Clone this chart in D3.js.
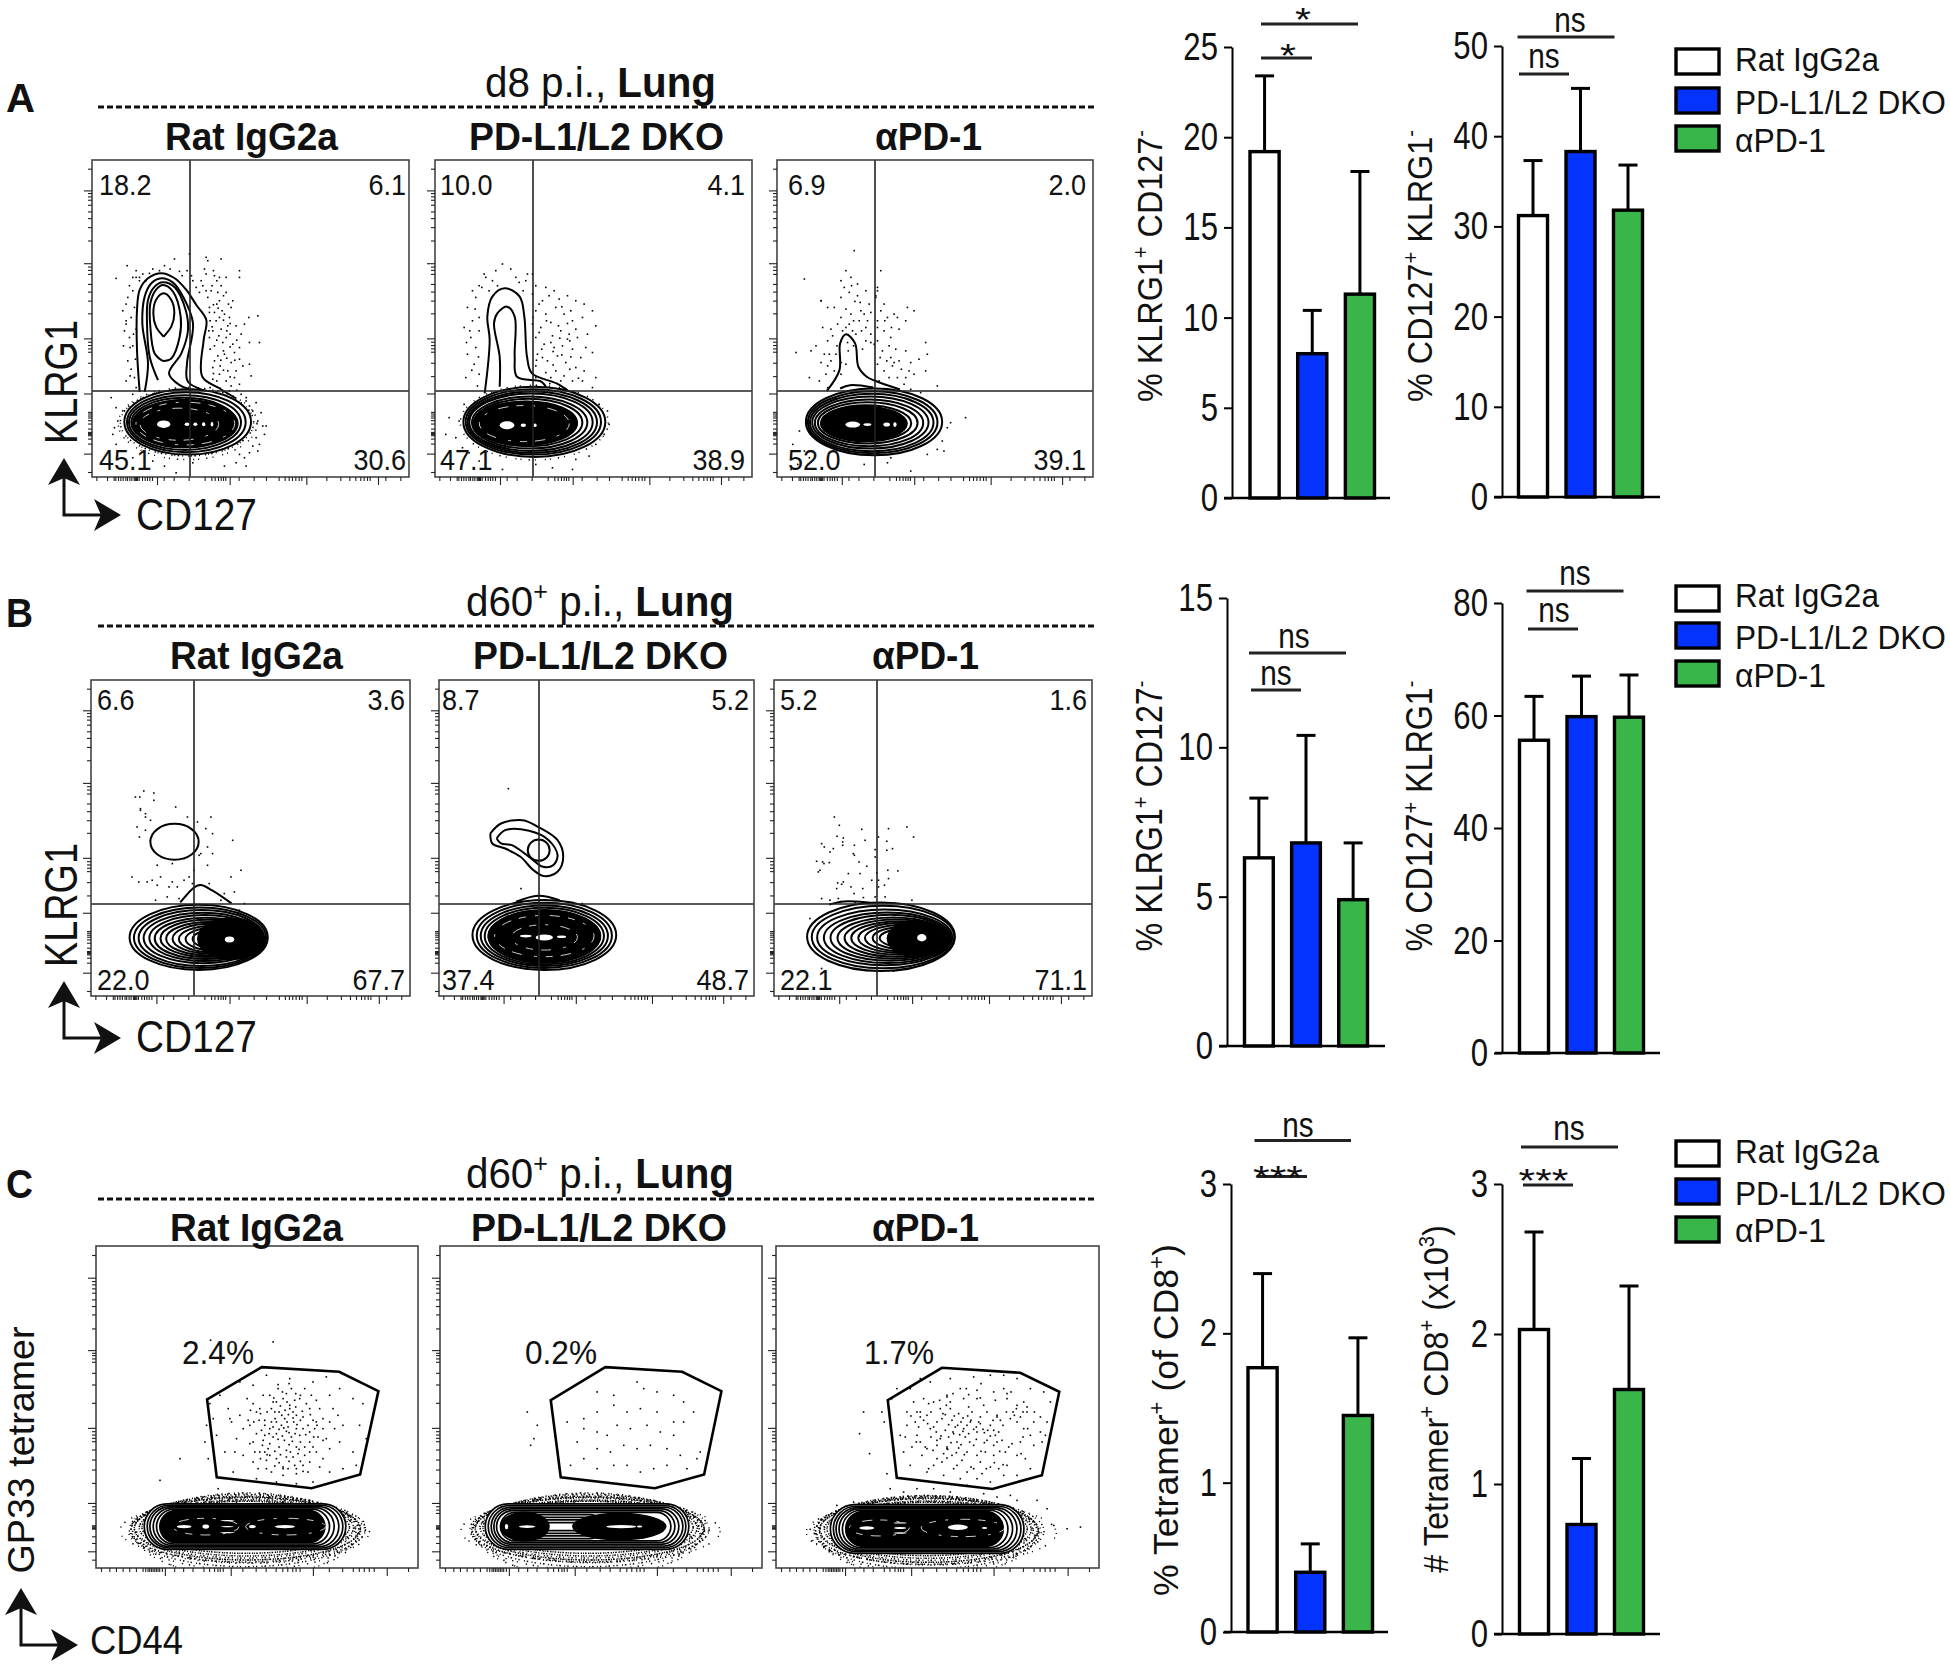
<!DOCTYPE html>
<html><head><meta charset="utf-8"><style>html,body{margin:0;background:#fff}svg{display:block}</style>
<script src="https://cdn.jsdelivr.net/npm/d3@7"></script></head><body><svg id="c" width="1950" height="1666"></svg>
<script>
// ---------- DATA ----------
const categories=["Rat IgG2a","PD-L1/L2 DKO","αPD-1"];
const meanA1=[19.2,8.0,11.3], topA1=[23.4,10.4,18.1];
const meanA2=[31.2,38.3,31.8], topA2=[37.3,45.3,36.8];
const meanB1=[6.3,6.8,4.9], topB1=[8.3,10.4,6.8];
const meanB2=[55.6,59.8,59.7], topB2=[63.4,67,67.2];
const meanC1=[1.77,0.4,1.45], topC1=[2.4,0.59,1.97];
const meanC2=[2.03,0.73,1.63], topC2=[2.68,1.17,2.32];
const quadA=[["18.2","6.1","45.1","30.6"],["10.0","4.1","47.1","38.9"],["6.9","2.0","52.0","39.1"]];
const quadB=[["6.6","3.6","22.0","67.7"],["8.7","5.2","37.4","48.7"],["5.2","1.6","22.1","71.1"]];
const gatePct=["2.4%","0.2%","1.7%"];
// axis ticks of the flow plots, in channel units
const tickXMajor=[195,413,643,858], tickXMinor=[13,45,65,70,78,85,92,100,105,112,118,125,128,130,132,135,140,150,158,165,172,180,215,245,290,338,358,368,378,386,393,400,440,485,522,560,578,590,600,610,620,628,703,745,772,790,805,815,825,833,880,925];
const tickYMajor=[858,640,415,250,70], tickYMinor=[923,850,840,830,815,795,775,748,708,630,620,608,578,555,528,490,405,395,385,375,342,302,195,190,184,178,170,160,145,135,132,130,128,125,115,100,15];
const tickCXMajor=[207,405,652,874], tickCXMinor=[15,40,60,80,100,120,140,148,155,160,165,170,175,180,185,190,198,235,262,290,323,340,355,365,372,381,440,480,510,540,560,575,590,600,612,700,740,772,790,805,820,835,938];
const tickCYMajor=[870,653,420,195,50], tickCYMinor=[938,860,850,838,825,805,785,760,718,645,638,628,618,585,550,495,410,400,390,380,355,325,295,255,185,175,165,128,125,122,120,118,95,75,25];
// density contours: rings as [centre x, centre y, radius x, radius y]
const ringsA1=[[287,165,190,98],[283,164,178,90],[279,163,168,82],[275,163,157,74],[271,163,146,66],[267,162,134,58],[263,161,122,50],[259,160,110,44],[255,160,98,38],[251,159,86,32],[247,159,74,26],[241,158,58,20],[233,158,42,16],[225,158,28,13]];
const ringsA2=[[298,165,213,105],[295,165,203,98],[292,164,194,92],[288,164,185,86],[284,163,173,78],[280,163,162,71],[276,162,150,64],[272,162,138,57],[268,161,125,50],[264,160,113,44],[260,160,100,38],[255,159,87,32],[250,158,74,27],[240,157,58,22],[230,156,42,17]];
const ringsA3=[[292,165,205,100],[288,164,195,93],[285,163,186,86],[281,163,175,78],[277,162,163,70],[273,162,150,62],[268,161,136,54],[264,160,123,47],[260,160,110,41],[256,159,96,35],[250,158,82,29],[243,157,66,23],[235,157,50,17]];
const ringsB1=[[321,176,206,98],[325,175,197,91],[329,174,187,84],[333,174,176,76],[338,174,164,69],[342,173,152,62],[347,173,140,56],[352,172,128,50],[358,172,115,45],[364,171,102,40],[370,171,88,35],[377,171,74,30],[385,171,60,25],[392,171,44,20],[400,170,28,14],[249,463,72,54]];
const ringsB2=[[318,183,217,105],[318,182,204,98],[318,181,192,91],[318,180,180,85],[318,179,168,79],[318,178,156,72],[318,178,144,65],[318,177,132,58],[318,176,120,52],[318,176,108,46],[318,176,95,40],[318,176,82,33],[318,176,68,26],[318,176,54,20],[318,176,40,14],[301,438,33,32]];
const ringsB3=[[320,178,221,103],[326,177,213,94],[331,176,202,84],[339,175,190,76],[347,175,178,69],[356,174,166,62],[365,174,154,56],[373,174,142,50],[382,174,130,45],[390,174,118,40],[400,174,105,35],[408,174,92,30],[418,174,78,25],[428,174,62,20],[436,174,40,14]];
const ringsC1=[[448,124,303,68],[448,124,294,64],[446,124,284,60],[444,124,272,56],[442,124,260,52],[440,124,248,48],[438,124,234,44],[436,124,220,40],[434,124,204,36],[432,124,188,32]];
const ringsC2=[[442,124,306,68],[442,124,297,63],[442,124,288,58],[440,124,278,53],[438,124,268,48],[438,124,256,43],[367,124,120,36],[367,124,110,28],[367,124,100,20],[367,124,90,12]];
const ringsC3=[[453,117,290,73],[453,117,281,68],[451,117,271,64],[449,117,260,60],[447,117,248,56],[445,117,236,52],[443,117,222,48],[441,117,208,44]];
// solid cores: [cx,cy,rx,ry, kind]: 0 black, 1 white, 2 broken white line, 3 black stadium
const coresA1=[[280,160,160,74,0],[280,160,148,64,2],[262,158,118,48,2],[215,158,20,11,1],[285,158,7,5,1],[310,158,6,5,1],[335,158,5,6,1],[360,158,4,7,1]];
const coresA2=[[270,160,158,68,0],[268,160,135,54,2],[216,155,22,12,1],[265,155,8,5,1],[300,155,5,5,1]];
const coresA3=[[262,160,132,54,0],[228,157,22,9,1],[272,157,12,4,1],[330,157,10,6,1],[355,157,5,7,1]];
const coresB1=[[418,172,102,64,0],[413,170,14,9,1]];
const coresB2=[[318,180,172,80,0],[318,180,150,62,2],[318,176,100,38,2],[318,176,26,9,1],[262,180,18,4,1],[370,178,14,4,1]];
const coresB3=[[425,172,88,56,0],[442,175,14,11,1]];
const coresC1=[[440,124,248,48,3],[330,124,100,25,2],[570,124,120,25,2],[265,124,22,5,1],[330,124,10,6,1],[568,124,30,5,1],[470,124,10,5,1],[395,142,22,2,1],[395,124,20,2,1],[395,106,22,2,1]];
const coresC2=[[255,124,75,45,0],[539,124,142,42,0],[262,124,25,4,1],[545,124,45,5,1],[600,124,8,3,1],[200,124,5,8,1],[365,124,25,2,1]];
const coresC3=[[445,117,236,52,3],[310,120,90,24,2],[560,120,125,26,2],[272,120,22,5,1],[545,122,30,8,1],[372,135,20,2,1],[372,120,18,3,1],[372,105,20,2,1],[625,120,8,3,1]];
// open or closed contour lines as [x,y] channel points
const linesA1=[[[143,255],[135,380],[135,500],[143,560],[168,595],[208,610],[248,595],[283,560],[313,515],[343,470],[335,410],[331,300],[383,265],[433,235]],[[158,255],[168,340],[151,460],[158,540],[178,580],[208,595],[243,582],[273,540],[303,460],[285,340],[288,285],[363,250]],[[198,290],[173,360],[165,460],[168,530],[188,570],[213,583],[248,568],[281,500],[288,440],[268,370],[231,310],[263,275],[323,255]],[[213,347],[188,370],[175,450],[175,520],[193,562],[213,575],[243,555],[266,480],[263,420],[238,355],[213,347]],[[215,420],[192,450],[184,490],[192,530],[215,550],[238,530],[247,490],[238,450],[215,420]]];
const linesA2=[[[149,250],[164,410],[157,480],[172,540],[209,565],[254,540],[268,480],[276,360],[291,310],[365,280],[410,250]],[[194,270],[194,360],[177,460],[187,490],[216,510],[239,480],[239,360],[246,300],[320,285],[335,265]]];
const linesA3=[[[150,258],[188,320],[190,400],[208,427],[235,400],[245,330],[270,300],[295,288],[370,262]],[[190,265],[220,275],[290,268]]];
const linesB1=[[[266,281],[310,328],[327,333],[360,318],[419,278]]];
const linesB2=[[[155,488],[187,518],[253,528],[299,508],[358,468],[375,418],[358,373],[318,360],[285,378],[246,418],[200,443],[161,458],[155,488]],[[174,473],[200,498],[272,496],[331,468],[358,423],[345,393],[314,388],[272,418],[220,453],[187,458],[174,473]],[[233,283],[299,301],[364,288]]];
const linesB3=[[[165,275],[210,284],[300,280],[380,275]]];
// tetramer gates
const gateC1=[[498,602],[731,588],[849,530],[794,280],[648,239],[363,272],[334,505]];
const gateC2=[[497,602],[728,588],[846,530],[794,280],[646,239],[363,272],[333,503]];
const gateC3=[[497,600],[732,585],[849,528],[797,278],[649,237],[362,270],[335,503]];
// speckle bands of dense events: [cx,cy,rx,ry,density 0 high .. 2 low]
const speckC1=[[450,122,312,78,0],[452,120,322,84,0],[448,120,332,90,1],[455,118,340,94,0],[445,116,345,98,1],[458,116,352,100,1],[450,112,345,108,1],[450,108,340,114,2],[460,110,362,96,2],[440,112,368,88,2],[452,100,330,125,2],[452,95,300,130,2]];
const speckC2=[[445,122,316,78,0],[447,120,326,84,0],[443,120,336,90,1],[450,118,344,94,0],[440,116,350,98,1],[453,116,356,100,1],[445,112,350,108,1],[445,108,345,114,2],[470,110,372,92,2],[435,112,372,88,2],[447,100,335,125,2],[447,95,305,130,2]];
const speckC3=[[453,117,300,80,0],[455,115,310,86,0],[451,115,320,92,1],[458,113,328,96,0],[448,111,334,100,1],[461,111,342,102,1],[453,107,335,110,1],[453,103,330,114,2],[470,105,370,94,2],[443,107,352,90,2],[455,95,320,120,2],[455,90,290,125,2]];
const speckA1=[[287,160,208,108,2],[285,163,200,100,1]];
const speckA2=[[298,163,222,112,2]];
// individual events
const dotsA1=[70,597,103,635,130,620,180,625,215,635,245,655,283,620,290,670,340,610,340,660,345,650,365,605,380,600,385,655,440,600,440,620,385,575,400,600,330,575,355,560,375,555,345,540,400,555,420,530,415,510,380,530,350,510,365,495,395,490,370,470,410,480,430,455,455,460,468,480,495,485,385,445,360,440,400,420,420,400,440,390,445,430,390,405,365,395,350,420,375,365,395,370,415,345,430,320,440,355,470,405,500,405,450,335,470,340,475,305,360,330,380,310,360,295,400,290,415,275,390,255,440,280,445,250,460,230,490,225,120,560,105,540,90,500,115,480,95,440,110,420,120,395,105,350,115,325,125,300,130,270,120,250,100,290,120,600,150,610,160,590,140,590,200,620,260,618,300,590,310,570,320,555,335,625,372,520,388,500,405,455,352,470,378,425,392,380,412,430,425,375,365,350,382,335,405,320,372,290,352,270,425,300,100,460,125,510,112,390,100,520,130,445,55,240,70,210,75,170,60,130,95,80,120,60,180,50,215,35,250,15,300,45,395,35,430,45,455,60,470,75,495,80,490,120,510,155,520,155,495,170,505,195,480,200,460,240,500,100,460,35,70,100,65,150,410,260,470,215,430,225,515,130,480,95,440,70,358,575,372,590,392,545,407,520,362,518,376,508,392,472,358,452,402,440,372,412,412,392,352,385,384,352,402,358,362,312,392,322,412,302,382,268,402,240,432,262,110,575,130,600,100,470,122,430,92,395,128,355,112,305,140,600,170,612,232,625,268,605,296,605,325,590,362,620,350,495,412,462,432,412,380,480,348,440,340,560,426,352];
const dotsA2=[170,590,200,640,225,625,240,600,160,560,145,610,130,575,250,585,275,610,300,575,330,570,290,550,320,530,355,560,370,535,395,545,420,530,445,520,470,500,480,455,300,500,330,490,360,510,385,490,410,470,440,480,455,430,290,460,315,450,345,465,375,440,400,430,425,420,450,390,470,375,300,420,325,400,350,425,380,395,410,385,435,360,305,370,335,350,365,365,390,345,420,330,445,320,300,335,330,315,360,320,385,305,410,290,440,290,470,270,120,540,95,510,85,450,110,470,130,480,105,420,120,390,95,370,115,340,130,310,90,300,125,275,150,600,185,575,130,440,110,560,355,390,395,415,320,360,345,300,375,290,300,300,270,590,480,300,70,170,60,120,85,220,100,75,130,50,80,90,420,55,460,65,480,100,505,130,520,160,515,200,490,220,40,180,30,130,300,40,350,30,410,25,200,25,310,520,340,545,378,512,405,500,292,480,332,470,368,455,395,462,420,445,310,435,345,405,372,418,402,410,318,385,352,378,378,368,405,362,302,352,352,338,402,325,428,298,312,290,342,282,370,262,118,505,102,440,92,405,128,362,108,322,138,570,180,620,262,560,290,610];
const dotsA3=[230,680,310,620,300,570,80,595,130,530,150,510,190,590,205,620,220,600,240,580,130,530,170,510,190,540,215,555,240,545,265,560,275,520,295,540,310,500,190,480,220,490,250,500,280,495,300,470,215,460,245,470,265,450,280,430,195,440,135,450,150,410,165,425,190,410,210,405,235,430,265,410,290,400,300,450,320,440,340,420,350,490,390,510,410,500,385,470,360,480,330,480,295,545,300,560,320,520,335,395,355,385,340,360,315,380,300,340,320,320,345,335,365,350,385,380,400,345,425,355,445,405,450,370,445,320,410,310,385,300,360,300,335,300,305,290,100,380,130,345,145,310,155,370,170,320,175,370,190,345,55,375,95,300,125,290,150,270,380,280,400,265,430,255,480,275,483,180,520,165,565,180,45,100,65,140,60,40,40,25,80,80,95,60,260,40,330,45,400,20,450,70,480,85,500,80,510,150,495,110,340,60,200,570,222,575,232,528,205,505,248,525,260,490,228,470,205,450,270,470,180,460,160,445,225,440,252,440,280,405,300,410,322,470,342,450,365,445,308,360,328,350,350,345,372,325,395,320,160,350,150,335,178,395,212,380,228,395,255,385,190,310,205,340,115,395,140,370];
const dotsB1=[143,600,155,618,185,612,185,590,145,560,250,570,175,530,160,500,130,600,145,565,160,550,240,400,160,540,205,500,135,510,142,480,175,470,240,495,260,470,275,480,290,500,315,525,340,505,345,450,360,490,285,540,305,470,355,540,325,430,360,430,275,415,320,425,345,395,290,360,305,380,275,350,240,345,195,395,180,350,205,360,230,330,120,360,140,345,165,345,195,335,255,330,260,295,225,300,190,290,300,340,350,340,415,360,445,380,420,470,425,315,395,310,385,290,455,280,440,260];
const dotsB2=[207,625,430,280,245,325,340,295];
const dotsB3=[178,540,193,515,186,482,203,465,205,477,235,430,203,455,140,460,148,450,175,445,165,435,143,405,125,407,130,375,147,400,135,380,163,403,238,455,260,503,238,425,252,405,300,442,270,470,300,420,305,372,275,392,255,370,290,350,310,330,220,370,188,342,205,345,185,325,200,338,228,330,263,325,237,310,265,298,240,285,300,300,310,350,310,480,335,440,335,467,340,505,395,510,415,480,352,445,338,380,340,355,328,335,368,378,330,300,410,290,165,290,190,295,140,295,240,285,105,235,355,77,140,85];
const dotsC1=[342,685,530,680,400,450,340,495,330,430,325,380,335,330,250,330,190,265,365,240,330,205,350,170,400,210,420,200,450,195,480,180,520,215,560,200,590,210,610,180,640,205,370,520,395,480,430,560,470,550,510,580,580,570,650,560,690,575,730,540,770,510,800,495,790,430,810,390,770,350,780,310,740,300,700,290,650,260,600,255,540,260,480,270,410,290,385,350,360,400,350,450,420,390,440,340,470,320,510,300,430,460,460,430,490,480,500,520,530,500,610,510,640,480,660,440,680,420,710,480,740,430,700,360,680,330,640,320,600,300,560,300,470,380,490,350,520,340,640,380,620,420,600,460,580,480,660,350,730,380,700,520,
 570,412,555,430,585,395,540,405,600,420,565,450,578,372,548,365,612,380,525,440,620,455,590,470,552,488,530,395,515,360,640,410,605,345,570,335,540,330,595,310,625,340,560,510,595,505,630,495,525,480,505,445,495,415,650,445,510,325,480,405,460,375,455,445,665,395,585,540,545,540,520,520,645,520,670,480,600,285,560,280,525,290,505,350,485,300,635,290,670,305,690,390,715,420,725,460,452,510,440,420,415,350,405,440,470,495,575,425,558,398,592,440,536,450,610,400,548,470,580,490,520,420,635,430,570,355,600,365,535,352,625,365,512,470,488,445,655,420,560,305,590,335,620,310,650,365,500,385,475,350,680,450,
 562,422,578,408,548,418,590,452,572,440,556,460,602,432,545,388,588,382,564,385,530,425,612,445,576,462,540,440,518,405,628,402,596,405,552,342,582,350,608,358,520,375,566,475,598,485,535,470,618,472,642,462,505,430,492,465,505,400,652,395,540,500,572,500,612,520,570,525,532,512,558,530,598,525,548,318,578,322,612,322,535,308,498,370,472,440,462,475,480,470,640,350,662,430,680,385,700,440,512,342,492,330,575,300,620,292,545,552,578,555,625,540,660,505];
const dotsC2=[470,530,520,520,590,560,610,540,650,530,700,520,730,500,760,470,430,450,470,470,520,490,560,470,600,480,650,470,700,440,730,440,430,420,470,410,500,400,530,430,570,420,620,430,660,410,700,400,380,440,410,380,470,360,510,350,550,370,590,360,630,370,680,360,720,340,770,330,390,310,430,330,470,300,520,310,560,310,600,290,640,300,680,310,740,300,780,350,260,470,290,430,280,390,270,370,220,190,245,190,300,210,340,190,400,200,450,190,500,190,540,180,600,185,640,205,680,190];
const dotsC3=[260,470,248,405,278,345,330,285,315,470,322,440,345,510,360,540,400,540,430,570,460,560,520,570,590,575,640,580,680,580,720,570,760,540,800,530,820,500,810,440,790,410,805,400,770,370,740,420,720,340,760,300,720,280,680,280,640,260,600,270,550,270,500,280,450,290,400,310,380,350,370,400,390,430,430,470,470,500,510,520,550,540,600,510,650,530,690,510,720,490,750,470,770,440,450,360,480,330,510,360,540,310,570,350,610,320,650,340,690,310,420,400,460,420,490,390,340,240,380,230,420,240,470,240,520,230,570,250,620,225,660,215,700,220,130,120,830,130,870,120,910,125,180,190,230,200,720,205,780,205,810,180,
 542,430,525,445,560,420,505,415,580,440,545,465,530,405,565,395,495,450,600,410,610,455,470,425,640,430,520,480,575,485,490,480,620,490,540,380,590,370,510,365,450,460,660,460,700,450,665,410,480,385,630,385,420,470,440,510,720,440,560,510,510,515,600,535,680,540,740,500,405,365,435,340,525,340,555,325,600,340,650,370,685,350,730,380,760,400,455,300,495,320,640,305,570,290,615,285,665,300,745,330,390,470,415,440,440,445,462,395,515,395,548,402,572,458,598,425,622,408,648,445,678,430,708,470,738,470,468,355,500,345,530,300,590,300,625,350,675,385,705,375,430,380,488,505,528,525,568,540,612,555,655,505,702,530,772,470,790,455,795,380,410,500,385,395,
 552,440,535,425,570,430,515,432,590,418,558,452,532,458,575,405,505,462,610,435,618,418,480,440,650,415,508,490,585,470,498,465,630,470,552,372,578,380,522,378,462,470,670,445,712,460,655,400,492,398,622,378,430,455,455,495,730,455,575,522,520,500,610,512,690,525,750,485,418,380,445,365,538,348,562,342,612,352,660,380,695,365,738,395,752,420,470,310,510,332,652,318,582,305,628,300,678,312,732,345,402,458,425,425,452,435,478,410,528,410,558,412,582,445,605,440,632,415,660,455,688,470,718,480,480,370,512,358,545,362,598,388,640,398,668,352];
// ---------- LAYOUT ----------
const svg=d3.select('#c');
const FONT='Liberation Sans, Arial, sans-serif', INK='#111';
function T(g,x,y,segs,o={}){
  const t=g.append('text').attr('font-family',FONT).attr('font-size',o.size||30).attr('text-anchor',o.anchor||'start').attr('fill',INK).attr('xml:space','preserve');
  if(typeof segs==='string')segs=[[segs]];
  const size=o.size||30; let shift=0;
  segs.forEach(([s,k])=>{
    const sup=k==='sup', tgt=sup?-size*.38:0;
    t.append('tspan').attr('dy',tgt-shift).attr('font-size',sup?size*.62:size).attr('font-weight',k==='b'||o.bold?'bold':'normal').text(s);
    shift=tgt;
  });
  const n=t.node().getComputedTextLength();
  const k=o.len?o.len/n:(o.k||1);
  t.attr('transform',`translate(${x},${y}) rotate(${o.rot||0}) scale(${k},1)`);
  return t;
}
const plotLine=d3.line().curve(d3.curveCatmullRom.alpha(.5));
const speckDash=[['1.6 1.1 1 .9 1.4 1.6','1.1 1.4 1.6 .8 1 2','1.4 .9 1 1.7 1.2 1.2'],['1.3 2.1 1 3.3 1.6 1.9 1 4.2','1 3.1 1.5 2.3 1 1.7 1.3 5','1.5 1.8 1 4.4 1 2.6'],['1 5 1.4 7 1 4 1 9','1.2 8 1 3.5 1.3 6','1 4 1 11 1.4 5 1 7']];
let clipN=0;
const pairs=f=>d3.range(0,f.length,2).map(i=>[f[i],f[i+1]]);
function flowPanel(p){
  const D=p.big?[968,965]:[951,949];
  const x=d3.scaleLinear().domain([0,D[0]]).range([p.l,p.r]);
  const y=d3.scaleLinear().domain([0,D[1]]).range([p.b,p.t]);
  const rw=d=>x(d)-x(0), rh=d=>y(0)-y(d);
  const g=svg.append('g'), id='cl'+(clipN++);
  g.append('clipPath').attr('id',id).append('rect').attr('x',p.l).attr('y',p.t).attr('width',p.r-p.l).attr('height',p.b-p.t);
  const inner=g.append('g').attr('clip-path',`url(#${id})`);
  inner.selectAll('.sp').data(p.speck||[]).join('ellipse').attr('cx',d=>x(d[0])).attr('cy',d=>y(d[1])).attr('rx',d=>rw(d[2])).attr('ry',d=>rh(d[3]))
    .attr('fill','none').attr('stroke','#000').attr('stroke-width',1.5).attr('stroke-dasharray',(d,i)=>speckDash[d[4]][i%3]);
  inner.selectAll('.dot').data(pairs(p.dots)).join('rect').attr('x',d=>x(d[0])).attr('y',d=>y(d[1])).attr('width',1.6).attr('height',1.6).attr('fill','#000');
  if(p.big){
    inner.selectAll('.ringBg').data(p.rings.slice(0,1)).join('rect').attr('x',d=>x(d[0]-d[2])).attr('y',d=>y(d[1]+d[3])).attr('width',d=>rw(2*d[2])).attr('height',d=>rh(2*d[3])).attr('rx',d=>rh(d[3])).attr('fill','#fff');
    inner.selectAll('.ring').data(p.rings).join('rect').attr('x',d=>x(d[0]-d[2])).attr('y',d=>y(d[1]+d[3])).attr('width',d=>rw(2*d[2])).attr('height',d=>rh(2*d[3])).attr('rx',d=>rh(d[3]))
      .attr('fill','none').attr('stroke','#000').attr('stroke-width',1.7);
  } else {
    inner.selectAll('.ln').data(p.lines).join('path').attr('d',d=>plotLine(d.map(q=>[x(q[0]),y(q[1])]))).attr('fill','none').attr('stroke','#000').attr('stroke-width',2);
    inner.selectAll('.ring').data(p.rings).join('ellipse').attr('cx',d=>x(d[0])).attr('cy',d=>y(d[1])).attr('rx',d=>rw(d[2])).attr('ry',d=>rh(d[3]))
      .attr('fill','#fff').attr('stroke','#000').attr('stroke-width',2);
  }
  p.cores.forEach(d=>{
    if(d[4]===3){inner.append('rect').attr('x',x(d[0]-d[2])).attr('y',y(d[1]+d[3])).attr('width',rw(2*d[2])).attr('height',rh(2*d[3])).attr('rx',rh(d[3])).attr('fill','#000');return;}
    const e=inner.append('ellipse').attr('cx',x(d[0])).attr('cy',y(d[1])).attr('rx',rw(d[2])).attr('ry',rh(d[3]));
    if(d[4]===2) e.attr('fill','none').attr('stroke','#fff').attr('stroke-width',.8).attr('stroke-dasharray','7 9 3 12 10 8');
    else e.attr('fill',d[4]?'#fff':'#000');
  });
  if(p.gate) inner.append('polygon').attr('points',p.gate.map(q=>[x(q[0]),y(q[1])].join(',')).join(' ')).attr('fill','none').attr('stroke','#000').attr('stroke-width',2.6);
  if(p.vx){
    g.append('line').attr('x1',p.vx).attr('x2',p.vx).attr('y1',p.t).attr('y2',p.b).attr('stroke','#222').attr('stroke-width',1.6);
    g.append('line').attr('x1',p.l).attr('x2',p.r).attr('y1',p.hy).attr('y2',p.hy).attr('stroke','#222').attr('stroke-width',1.6);
  }
  g.append('rect').attr('x',p.l).attr('y',p.t).attr('width',p.r-p.l).attr('height',p.b-p.t).attr('fill','none').attr('stroke','#444').attr('stroke-width',1.6);
  const txM=p.big?tickCXMajor:tickXMajor, txm=p.big?tickCXMinor:tickXMinor, tyM=p.big?tickCYMajor:tickYMajor, tym=p.big?tickCYMinor:tickYMinor;
  const ax=(gen,tr)=>{const a=g.append('g').attr('transform',tr).call(gen);a.select('.domain').remove();a.selectAll('line').attr('stroke','#222').attr('stroke-width',1.1);};
  ax(d3.axisBottom(x).tickValues(txm).tickSize(4).tickFormat(''),`translate(0,${p.b})`);
  ax(d3.axisBottom(x).tickValues(txM).tickSize(8).tickFormat(''),`translate(0,${p.b})`);
  ax(d3.axisLeft(y).tickValues(tym).tickSize(4).tickFormat(''),`translate(${p.l},0)`);
  ax(d3.axisLeft(y).tickValues(tyM).tickSize(8).tickFormat(''),`translate(${p.l},0)`);
}
const rowA={t:160,b:477,hy:391}, rowB={t:680,b:996,hy:904}, rowC={t:1246,b:1568,big:1};
const panels=[
 {...rowA,l:92,r:409,vx:190,rings:ringsA1,cores:coresA1,lines:linesA1,dots:dotsA1,speck:speckA1},
 {...rowA,l:435,r:752,vx:533,rings:ringsA2,cores:coresA2,lines:linesA2,dots:dotsA2,speck:speckA2},
 {...rowA,l:777,r:1093,vx:875,rings:ringsA3,cores:coresA3,lines:linesA3,dots:dotsA3},
 {...rowB,l:91,r:410,vx:194,rings:ringsB1,cores:coresB1,lines:linesB1,dots:dotsB1},
 {...rowB,l:439,r:754,vx:539,rings:ringsB2,cores:coresB2,lines:linesB2,dots:dotsB2},
 {...rowB,l:774,r:1092,vx:877,rings:ringsB3,cores:coresB3,lines:linesB3,dots:dotsB3},
 {...rowC,l:96,r:418,rings:ringsC1,cores:coresC1,dots:dotsC1,speck:speckC1,gate:gateC1},
 {...rowC,l:440,r:762,rings:ringsC2,cores:coresC2,dots:dotsC2,speck:speckC2,gate:gateC2},
 {...rowC,l:776,r:1099,rings:ringsC3,cores:coresC3,dots:dotsC3,speck:speckC3,gate:gateC3}];
panels.forEach(flowPanel);
// row headings
const tg=svg.append('g');
const heads=[
 {letter:"A",ly:112,title:[["d8 p.i., "],["Lung","b"]],tx:485,tl:231,ty:97,dash:107,colY:150,col:[[165,173],[469,255],[875,107]]},
 {letter:"B",ly:627,title:[["d60"],["+","sup"],[" p.i., "],["Lung","b"]],tx:466,tl:268,ty:616,dash:626,colY:669,col:[[170,173],[473,255],[872,107]]},
 {letter:"C",ly:1198,title:[["d60"],["+","sup"],[" p.i., "],["Lung","b"]],tx:466,tl:268,ty:1188,dash:1199,colY:1241,col:[[170,173],[471,256],[872,107]]}];
heads.forEach(h=>{
  T(tg,6,h.ly,h.letter,{size:40,bold:1,len:h.letter==="A"?29:27});
  T(tg,h.tx,h.ty,h.title,{size:43,len:h.tl});
  tg.append('line').attr('x1',98).attr('x2',1096).attr('y1',h.dash).attr('y2',h.dash).attr('stroke','#111').attr('stroke-width',3).attr('stroke-dasharray','6 3');
  categories.forEach((c,i)=>T(tg,h.col[i][0],h.colY,c,{size:39,bold:1,len:h.col[i][1]}));
});
// quadrant numbers
function quad(q,ps,top,bot,off){q.forEach((v,i)=>{const p=ps[i],o=off[i];
  T(tg,p.l+o[0],top,v[0],{size:30,k:.9});T(tg,p.r-o[1],top,v[1],{size:30,k:.9,anchor:'end'});
  T(tg,p.l+o[0],bot,v[2],{size:30,k:.9});T(tg,p.r-o[1],bot,v[3],{size:30,k:.9,anchor:'end'});});}
quad(quadA,panels.slice(0,3),195,470,[[7,3],[5,7],[11,7]]);
quad(quadB,panels.slice(3,6),710,990,[[6,5],[3,5],[6,5]]);
gatePct.forEach((s,i)=>T(tg,[182,525,864][i],1364,s,{size:34,len:[72,72,70][i]}));
// axis names and arrows
function arrows(vx,vy){
  const a=tg.append('g').attr('transform',`translate(${vx},${vy})`);
  a.append('path').attr('d','M0,-40V0H40').attr('fill','none').attr('stroke','#111').attr('stroke-width',3);
  a.append('path').attr('d','M0,-57L16,-30L0,-37L-16,-30Z').attr('fill','#111');
  a.append('path').attr('d','M57,0L30,-16L37,0L30,16Z').attr('fill','#111');
}
arrows(64,515);arrows(64,1038);arrows(21,1645);
T(tg,77,382,"KLRG1",{size:46,len:124,rot:-90,anchor:'middle'});
T(tg,77,905,"KLRG1",{size:46,len:124,rot:-90,anchor:'middle'});
T(tg,136,530,"CD127",{size:44,len:121});
T(tg,136,1052,"CD127",{size:44,len:121});
T(tg,34,1450,"GP33 tetramer",{size:37,len:247,rot:-90,anchor:'middle'});
T(tg,90,1654,"CD44",{size:40,len:93});
// bar charts
const colors=['#ffffff','#0433ff','#3ab54a'];
const charts=[
 {mean:meanA1,top:topA1,max:25,ticks:[0,5,10,15,20,25],ax:1232,y0:498,y1:47,bars:[1248.5,1376],bl:[1224,1390],lab:[["% KLRG1"],["+","sup"],[" CD127"],["-","sup"]],lx:1162,ly:266,ll:272,
  sig:[[1261,1358,24,"*",1303,31],[1261,1312,58,"*",1288,67]]},
 {mean:meanA2,top:topA2,max:50,ticks:[0,10,20,30,40,50],ax:1502,y0:497,y1:46,bars:[1517,1644],bl:[1494,1660],lab:[["% CD127"],["+","sup"],[" KLRG1"],["-","sup"]],lx:1432,ly:266,ll:272,
  sig:[[1517.5,1614.5,37,"ns",1570,32],[1519,1569,74,"ns",1544,68]]},
 {mean:meanB1,top:topB1,max:15,ticks:[0,5,10,15],ax:1227,y0:1046,y1:598,bars:[1243,1369],bl:[1219,1385],lab:[["% KLRG1"],["+","sup"],[" CD127"],["-","sup"]],lx:1162,ly:816,ll:271,
  sig:[[1249,1346,653,"ns",1294,648],[1251,1301,690,"ns",1276,685]]},
 {mean:meanB2,top:topB2,max:80,ticks:[0,20,40,60,80],ax:1502,y0:1053,y1:603,bars:[1518,1645],bl:[1495,1660],lab:[["% CD127"],["+","sup"],[" KLRG1"],["-","sup"]],lx:1432,ly:816,ll:271,
  sig:[[1526.5,1623.5,591,"ns",1575,585],[1528,1578,629,"ns",1554,622]]},
 {mean:meanC1,top:topC1,max:3,ticks:[0,1,2,3],ax:1231,y0:1632,y1:1184,bars:[1246.5,1374],bl:[1224,1388],lab:[["% Tetramer"],["+","sup"],[" (of CD8"],["+","sup"],[")"]],lx:1178,ly:1420,ll:352,
  sig:[[1254.5,1351,1140.5,"ns",1298,1137],[1256.5,1307,1176.5,"***",1278,1189]]},
 {mean:meanC2,top:topC2,max:3,ticks:[0,1,2,3],ax:1502,y0:1634,y1:1184,bars:[1518,1645],bl:[1494,1660],lab:[["# Tetramer"],["+","sup"],[" CD8"],["+","sup"],[" (x10"],["3","sup"],[")"]],lx:1448,ly:1399,ll:348,
  sig:[[1521,1618,1147,"ns",1569,1140],[1523,1573,1185,"***",1543.5,1192]]}];
charts.forEach(c=>{
  const g=svg.append('g');
  const y=d3.scaleLinear().domain([0,c.max]).range([c.y0,c.y1]);
  const x=d3.scaleBand().domain(categories).range(c.bars).paddingInner(.326).paddingOuter(0);
  g.selectAll('.bar').data(categories).join('rect').attr('x',d=>x(d)+1.5).attr('width',x.bandwidth()-3).attr('y',(d,i)=>y(c.mean[i])).attr('height',(d,i)=>y(0)-y(c.mean[i]))
    .attr('fill',(d,i)=>colors[i]).attr('stroke','#000').attr('stroke-width',3.4);
  categories.forEach((d,i)=>{
    const cx=x(d)+x.bandwidth()/2;
    g.append('line').attr('x1',cx).attr('x2',cx).attr('y1',y(c.mean[i])).attr('y2',y(c.top[i])).attr('stroke','#000').attr('stroke-width',3);
    g.append('line').attr('x1',cx-9.5).attr('x2',cx+9.5).attr('y1',y(c.top[i])).attr('y2',y(c.top[i])).attr('stroke','#000').attr('stroke-width',3);
  });
  const a=g.append('g').attr('transform',`translate(${c.ax},0)`).call(d3.axisLeft(y).tickValues(c.ticks).tickSize(8).tickSizeOuter(0));
  a.selectAll('.domain,line').attr('stroke','#000').attr('stroke-width',2);
  a.selectAll('text').remove();
  c.ticks.forEach(v=>T(g,c.ax-14,y(v)+13,String(v),{size:38,anchor:'end',k:.82}));
  g.append('line').attr('x1',c.bl[0]).attr('x2',c.bl[1]).attr('y1',c.y0).attr('y2',c.y0).attr('stroke','#000').attr('stroke-width',2.4);
  T(g,c.lx,c.ly,c.lab,{size:36,len:c.ll,rot:-90,anchor:'middle'});
  c.sig.forEach(s=>{
    g.append('line').attr('x1',s[0]).attr('x2',s[1]).attr('y1',s[2]).attr('y2',s[2]).attr('stroke','#222').attr('stroke-width',3);
    if(s[3]==="ns") T(g,s[4],s[5],"ns",{size:35,anchor:'middle',k:.85});
    else T(g,s[4],s[5],s[3],{size:34,anchor:'middle',len:s[3].length===3?50:16});
  });
});
// legends
[[48,87,125,71,114,152],[585,622,660,607,649,687],[1140,1178,1216,1163,1205,1242]].forEach(l=>{
  categories.forEach((c,i)=>{
    tg.append('rect').attr('x',1676).attr('y',l[i]+1).attr('width',43).attr('height',25).attr('fill',colors[i]).attr('stroke','#000').attr('stroke-width',3.4);
    T(tg,1735,l[i+3],c,{size:33,len:[144,211,91][i]});
  });
});
</script></body></html>
